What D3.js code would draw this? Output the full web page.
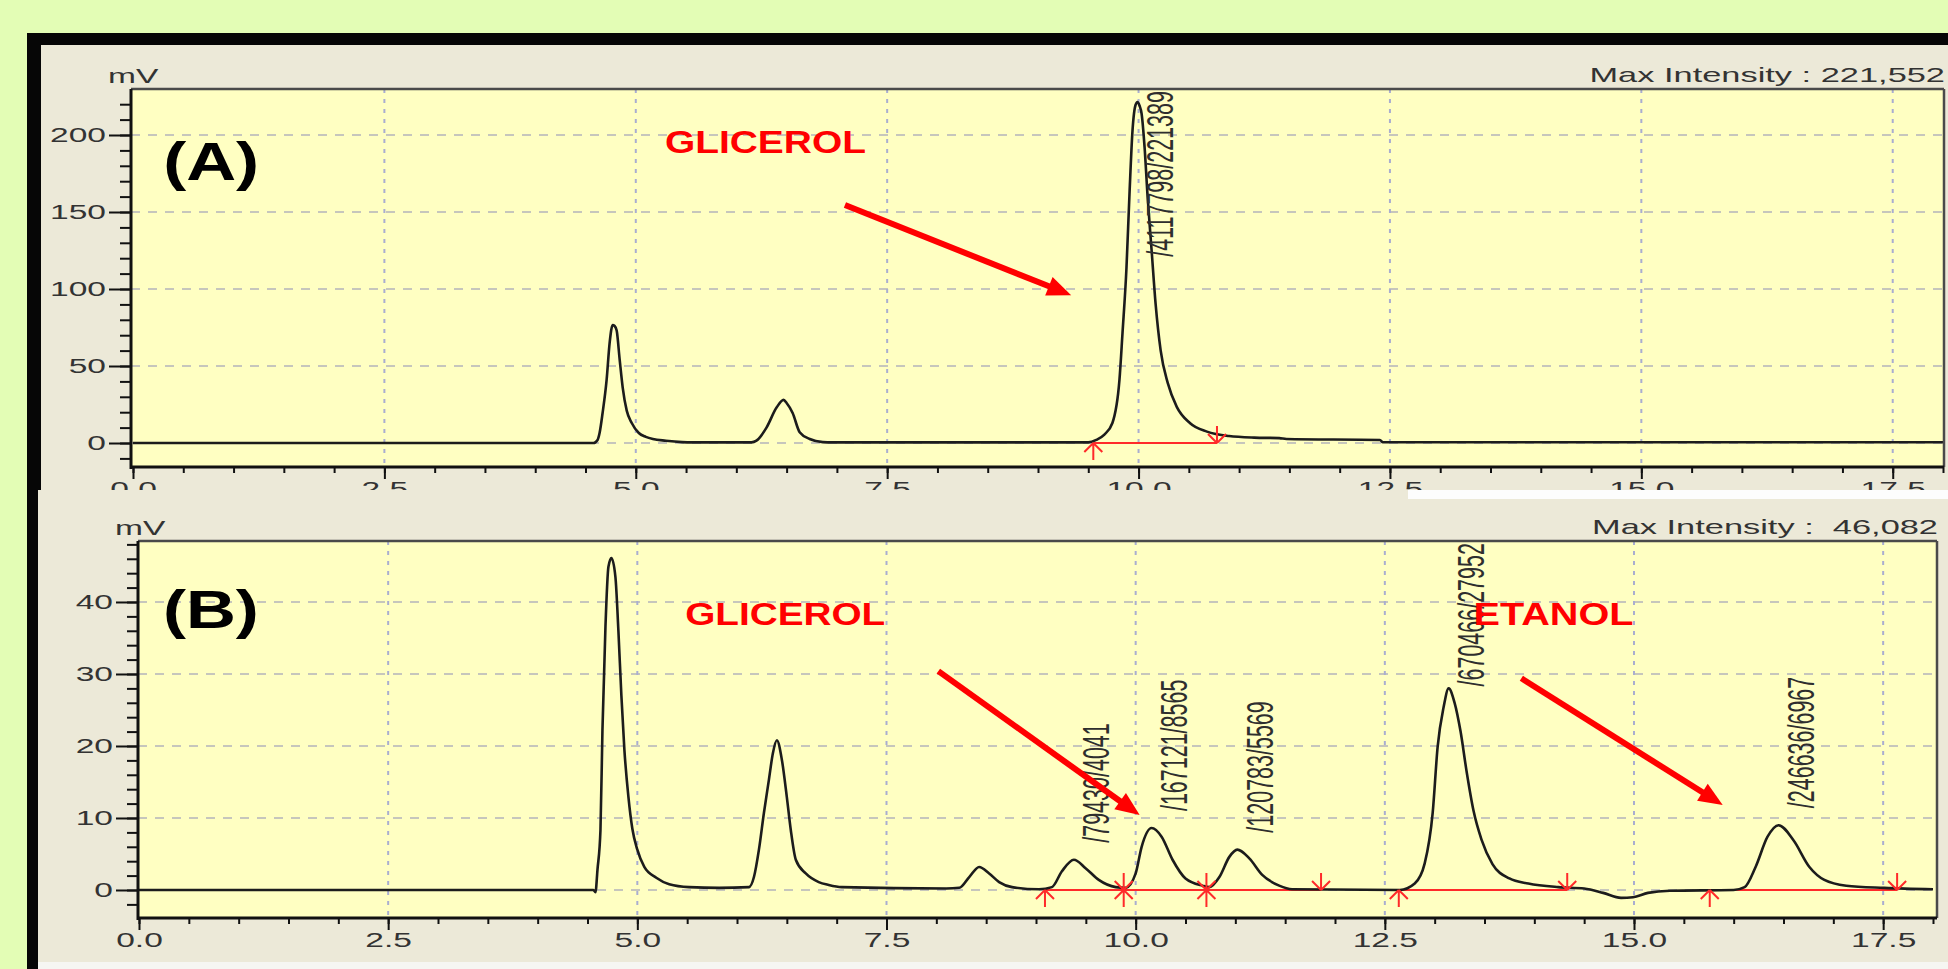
<!DOCTYPE html>
<html>
<head>
<meta charset="utf-8">
<script src="https://cdn.jsdelivr.net/npm/d3@7"></script>
<style>
  body { margin: 0; background: #e3fdb5; }
  svg { display: block; }
</style>
</head>
<body>
<svg id="chart" width="1948" height="969"></svg>
<script>
// ---- data: [time (min), signal (mV)] ----
const traceA = [
  [0, 0], [4.58, 0], [4.62, 2], [4.64, 6.5], [4.67, 19.5], [4.71, 41], [4.74, 65], [4.77, 76.6],
  [4.79, 76], [4.81, 73], [4.84, 54], [4.87, 36], [4.91, 21], [4.96, 13], [5.03, 6.5], [5.10, 4],
  [5.17, 2.6], [5.30, 1.5], [5.46, 0.6], [5.55, 0.4], [6.15, 0.4], [6.20, 1.5], [6.30, 10],
  [6.40, 23], [6.47, 28], [6.50, 26], [6.56, 19.5], [6.63, 7], [6.73, 2.6], [6.86, 0.6],
  [6.95, 0.4], [9.50, 0.4], [9.58, 2], [9.66, 5.5], [9.74, 13], [9.81, 41], [9.84, 71],
  [9.88, 114], [9.91, 162], [9.94, 203], [9.97, 219.5], [9.99, 221.4], [10.01, 219], [10.03, 214],
  [10.06, 192], [10.09, 160], [10.13, 125], [10.17, 90], [10.22, 60], [10.29, 39], [10.38, 23.5],
  [10.51, 13], [10.68, 7.4], [10.90, 4.5], [11.15, 3.5], [11.40, 3.2], [11.47, 2.6], [12.40, 2],
  [12.43, 0.5], [18, 0.5]
];
const traceB = [
  [0, 0], [4.56, 0], [4.58, -0.3], [4.60, 2.8], [4.63, 8.3], [4.65, 22.2], [4.68, 36.5],
  [4.71, 44.9], [4.74, 46.1], [4.78, 43.5], [4.81, 36], [4.84, 27], [4.87, 19.5], [4.91, 13],
  [4.95, 8.5], [5.00, 5.6], [5.07, 3.2], [5.19, 1.7], [5.32, 0.8], [5.52, 0.4], [5.82, 0.3],
  [6.12, 0.4], [6.17, 1.8], [6.22, 5.6], [6.27, 10.7], [6.32, 15.3], [6.36, 19.0], [6.40, 20.8],
  [6.45, 18.1], [6.50, 12.9], [6.54, 8.3], [6.59, 4.2], [6.69, 2.3], [6.82, 1.1], [6.92, 0.7],
  [7.05, 0.4], [8.10, 0.2], [8.23, 0.3], [8.33, 1.8], [8.43, 3.2], [8.53, 2.3], [8.63, 1.1],
  [8.76, 0.4], [9.03, 0.1], [9.16, 0.4], [9.26, 2.6], [9.38, 4.2], [9.50, 3.0], [9.63, 1.4],
  [9.80, 0.4], [9.90, 0.3], [10.00, 2.3], [10.06, 6.0], [10.16, 8.6], [10.26, 7.4], [10.37, 4.2],
  [10.50, 1.6], [10.67, 0.6], [10.74, 0.4], [10.84, 1.8], [10.94, 4.6], [11.02, 5.6], [11.14, 4.4],
  [11.27, 2.1], [11.44, 0.6], [11.57, 0.1], [12.65, 0], [12.80, 0.9], [12.90, 3.7], [12.98, 10.7],
  [13.03, 19.9], [13.09, 25.4], [13.14, 28.0], [13.20, 26], [13.26, 22], [13.32, 16.5],
  [13.39, 11], [13.47, 7], [13.58, 3.6], [13.75, 1.6], [13.94, 0.9], [14.24, 0.4], [14.50, 0.2],
  [14.69, -0.4], [14.87, -1.1], [14.99, -1.0], [15.14, -0.4], [15.36, -0.1], [16.00, 0],
  [16.11, 0.4], [16.22, 3.2], [16.34, 7.4], [16.45, 9.0], [16.60, 6.9], [16.76, 3.2], [16.91, 1.4],
  [17.13, 0.6], [17.51, 0.3], [18, 0.1]
];

// integrated peaks: [start, end] (min)
const segmentsA = [[9.55, 10.78]];
const segmentsB = [[9.09, 9.88], [9.88, 10.71], [10.71, 11.86], [12.64, 14.33], [15.76, 17.64]];

// peak labels "/area/height": retention time, apex (mV), text
const peaksA = [{ rt: 9.99, h: 221.4, text: "/4117798/221389" }];
const peaksB = [
  { rt: 9.38, h: 4.2, text: "/79430/4041" },
  { rt: 10.16, h: 8.6, text: "/167121/8565" },
  { rt: 11.02, h: 5.6, text: "/120783/5569" },
  { rt: 13.14, h: 28.0, text: "/670466/27952" },
  { rt: 16.45, h: 9.0, text: "/246636/6967" }
];

const timeTicks = [0, 2.5, 5, 7.5, 10, 12.5, 15, 17.5];
const mvTicksA = [0, 50, 100, 150, 200];
const mvTicksB = [0, 10, 20, 30, 40];
const maxIntensity = ["Max Intensity : 221,552", "Max Intensity :  46,082"];

// annotations: red captions and arrows, in data units
const notesA = [{ t: 5.29, v: 188, text: "GLICEROL", len: 201 }];
const notesB = [
  { t: 5.48, v: 36.8, text: "GLICEROL", len: 200 },
  { t: 13.39, v: 36.8, text: "ETANOL", len: 160 }
];
const arrowsA = [[7.08, 154.5, 9.33, 96]];
const arrowsB = [[8.02, 30.4, 10.04, 10.4], [13.87, 29.4, 15.89, 11.8]];

// ---- drawing ----
const SX = 1.72;                       // the screenshot is stretched sideways
const FONT = "Arial, 'Liberation Sans', sans-serif";
const svg = d3.select("#chart");

svg.append("rect").attr("width", 1948).attr("height", 969).attr("fill", "#e3fdb5");
svg.append("rect").attr("x", 27).attr("y", 33).attr("width", 1921).attr("height", 936).attr("fill", "#060606");

function marker(g, px, py, dir) {
  g.append("path")
    .attr("d", `M${px},${py}L${px - 9},${py + 9 * dir}M${px},${py}L${px + 9},${py + 9 * dir}M${px},${py}L${px},${py + 17 * dir}`)
    .attr("stroke", "#ff2a2a").attr("stroke-width", 2).attr("fill", "none");
}

function styleAxis(sel) {
  sel.select(".domain").remove();
  sel.selectAll(".tick line").attr("stroke", "#111").attr("stroke-width", 2);
  sel.selectAll(".tick text")
    .attr("fill", "#333").attr("font-size", 19.5).attr("font-family", FONT);
}

function drawPanel(p) {
  const x = d3.scaleLinear().domain([0, 18]).range([p.x0, p.x18]);
  const y = d3.scaleLinear().domain(p.yDomain).range([p.bottom, p.top]);
  const g = svg.append("g");

  g.append("rect").attr("x", p.left).attr("y", p.top)
    .attr("width", p.right - p.left).attr("height", p.bottom - p.top).attr("fill", "#ffffc2");

  g.append("g").selectAll("line").data(p.mvTicks).join("line")
    .attr("x1", p.left).attr("x2", p.right).attr("y1", d => y(d)).attr("y2", d => y(d))
    .attr("stroke", "#c6c6bc").attr("stroke-width", 2).attr("stroke-dasharray", "9,8");
  g.append("g").selectAll("line").data(timeTicks.filter(d => d > 0)).join("line")
    .attr("x1", d => x(d)).attr("x2", d => x(d)).attr("y1", p.top).attr("y2", p.bottom)
    .attr("stroke", "#a9add0").attr("stroke-width", 2).attr("stroke-dasharray", "4,6");

  const clipId = "clip" + p.id;
  svg.append("clipPath").attr("id", clipId).append("rect")
    .attr("x", p.left).attr("y", p.top).attr("width", p.right - p.left).attr("height", p.bottom - p.top);
  const plot = g.append("g").attr("clip-path", `url(#${clipId})`);

  // integration baselines
  p.segments.forEach(([s, e]) => {
    plot.append("line").attr("x1", x(s)).attr("x2", x(e)).attr("y1", y(0)).attr("y2", y(0))
      .attr("stroke", "#ff2a2a").attr("stroke-width", 2);
  });

  plot.append("path").datum(p.trace)
    .attr("d", d3.line().x(d => x(d[0])).y(d => y(d[1])).curve(d3.curveMonotoneX))
    .attr("fill", "none").attr("stroke", "#1c1c1c").attr("stroke-width", 2.6);

  p.segments.forEach(([s, e]) => {
    marker(plot, x(s), y(0), 1);
    marker(plot, x(e), y(0), -1);
  });

  // frame
  g.append("line").attr("x1", p.left).attr("x2", p.right).attr("y1", p.top).attr("y2", p.top)
    .attr("stroke", "#4a4a4a").attr("stroke-width", 2.5);
  g.append("line").attr("x1", p.right).attr("x2", p.right).attr("y1", p.top).attr("y2", p.bottom)
    .attr("stroke", "#4a4a4a").attr("stroke-width", 2.5);
  g.append("line").attr("x1", p.left).attr("x2", p.left).attr("y1", p.top).attr("y2", p.bottom + 2)
    .attr("stroke", "#111").attr("stroke-width", 3);
  g.append("line").attr("x1", p.left).attr("x2", p.right).attr("y1", p.bottom).attr("y2", p.bottom)
    .attr("stroke", "#111").attr("stroke-width", 3);

  // axes
  const yMinor = d3.range(p.minorStep * Math.ceil(p.yDomain[0] / p.minorStep), p.yDomain[1], p.minorStep);
  g.append("g").attr("transform", `translate(${p.left},0)`)
    .call(d3.axisLeft(y).tickValues(yMinor).tickSize(11).tickSizeOuter(0).tickFormat(""))
    .call(styleAxis);
  g.append("g").attr("transform", `translate(${p.left},0)`)
    .call(d3.axisLeft(y).tickValues(p.mvTicks).tickSize(22).tickPadding(3).tickSizeOuter(0).tickFormat(d3.format("d")))
    .call(styleAxis)
    .selectAll(".tick text").attr("x", -25 / SX).attr("transform", `scale(${SX},1)`);

  g.append("g").attr("transform", `translate(0,${p.bottom})`)
    .call(d3.axisBottom(x).tickValues(d3.range(0, 18.01, 0.5)).tickSize(6).tickSizeOuter(0).tickFormat(""))
    .call(styleAxis);
  g.append("g").attr("transform", `translate(0,${p.bottom})`)
    .call(d3.axisBottom(x).tickValues(timeTicks).tickSize(12).tickPadding(3).tickSizeOuter(0).tickFormat(d3.format(".1f")))
    .call(styleAxis)
    .selectAll(".tick text").attr("transform", `scale(${SX},1)`);

  // unit and max intensity
  g.append("text").attr("transform", `translate(${p.left - 23},${p.top - 6}) scale(${SX},1)`)
    .attr("font-family", FONT).attr("font-size", 19.5).attr("fill", "#333").text("mV");
  g.append("text").attr("transform", `translate(${p.right + 1},${p.top - 7}) scale(${SX},1)`)
    .attr("text-anchor", "end").attr("font-family", FONT).attr("font-size", 20).attr("fill", "#333")
    .style("white-space", "pre").text(p.maxText);

  // peak labels
  p.peaks.forEach(pk => {
    const lg = g.append("g");
    const t = lg.append("text").attr("transform", "rotate(-90)").attr("y", "0.36em")
      .attr("font-family", FONT).attr("font-size", 21.5).attr("fill", "#2e2e2e").text(pk.text);
    const len = t.node().getComputedTextLength();
    let b = y(pk.h) - 17;
    if (b - len < p.top + 2) b = p.top + 2 + len;
    lg.attr("transform", `translate(${x(pk.rt) + 22},${b}) scale(1.75,1)`);
  });

  // panel letter
  g.append("text").attr("x", x(p.letterAt[0])).attr("y", y(p.letterAt[1]))
    .attr("font-family", FONT).attr("font-weight", "bold").attr("font-size", 54)
    .attr("textLength", 96).attr("lengthAdjust", "spacingAndGlyphs").attr("fill", "#000").text(p.letter);

  // red notes
  p.notes.forEach(n => {
    g.append("text").attr("x", x(n.t)).attr("y", y(n.v))
      .attr("font-family", FONT).attr("font-weight", "bold").attr("font-size", 31)
      .attr("textLength", n.len).attr("lengthAdjust", "spacingAndGlyphs").attr("fill", "#ff0000").text(n.text);
  });
  p.arrows.forEach(([t0, v0, t1, v1]) => {
    const ax = x(t0), ay = y(v0), bx = x(t1), by = y(v1);
    const dx = bx - ax, dy = by - ay, L = Math.hypot(dx, dy);
    const ux = dx / L, uy = dy / L, hl = 24, hw = 10;
    g.append("line").attr("x1", ax).attr("y1", ay).attr("x2", bx - ux * hl * 0.8).attr("y2", by - uy * hl * 0.8)
      .attr("stroke", "#ff0000").attr("stroke-width", 6);
    const cx = bx - ux * hl, cy = by - uy * hl;
    g.append("path")
      .attr("d", `M${bx},${by}L${cx - uy * hw},${cy + ux * hw}L${cx + uy * hw},${cy - ux * hw}Z`)
      .attr("fill", "#ff0000");
  });
}

// panel A
svg.append("rect").attr("x", 41).attr("y", 45).attr("width", 1907).attr("height", 460).attr("fill", "#ece9d8");
drawPanel({
  id: "A", left: 131, right: 1944, top: 89, bottom: 467, x0: 133, x18: 1943,
  yDomain: [-15.58, 229.87], mvTicks: mvTicksA, minorStep: 10,
  trace: traceA, segments: segmentsA, peaks: peaksA, maxText: maxIntensity[0],
  letter: "(A)", letterAt: [0.3, 171], notes: notesA, arrows: arrowsA
});

// panel B (pasted over the bottom of A)
svg.append("rect").attr("x", 38).attr("y", 490).attr("width", 1910).attr("height", 472).attr("fill", "#ece9d8");
svg.append("rect").attr("x", 1408).attr("y", 490).attr("width", 540).attr("height", 9).attr("fill", "#fdfdfd");
svg.append("rect").attr("x", 38).attr("y", 962).attr("width", 1910).attr("height", 7).attr("fill", "#f6f6f2");
drawPanel({
  id: "B", left: 138, right: 1937, top: 541, bottom: 918, x0: 139, x18: 1933,
  yDomain: [-3.89, 48.47], mvTicks: mvTicksB, minorStep: 2,
  trace: traceB, segments: segmentsB, peaks: peaksB, maxText: maxIntensity[1],
  letter: "(B)", letterAt: [0.24, 36.4], notes: notesB, arrows: arrowsB
});
</script>
</body>
</html>
